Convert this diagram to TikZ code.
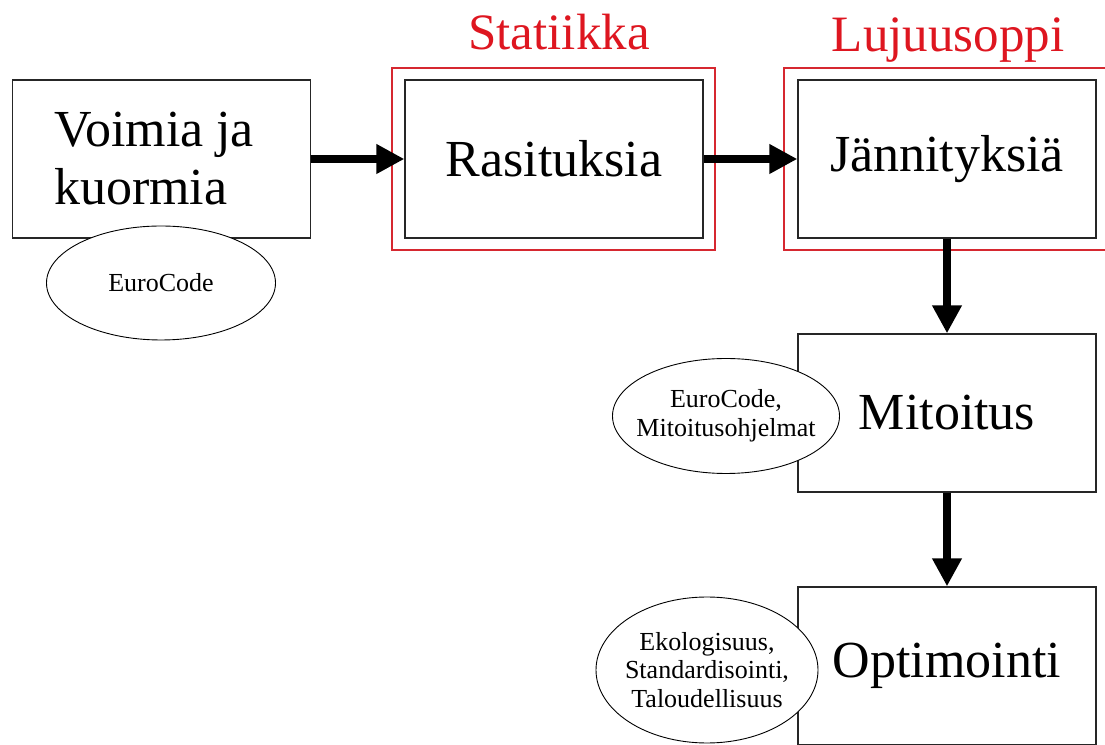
\documentclass[tikz,border=0pt]{standalone}
\usepackage{fontspec}
\setmainfont{Liberation Serif}
\usepackage{xcolor}
\usepackage{tikz}
\usetikzlibrary{arrows.meta,shapes.geometric}

\definecolor{framered}{RGB}{214,40,48}
\definecolor{titlered}{RGB}{222,22,32}

\begin{document}
\begin{tikzpicture}[x=1pt,y=1pt,
    box/.style={draw=black!85, line width=1.3pt, fill=white, minimum width=298pt,
                minimum height=158pt, inner sep=0pt, font=\fontsize{52}{58}\selectfont},
    frame/.style={draw=framered, line width=1.3pt, minimum width=323pt,
                  minimum height=182pt, inner sep=0pt},
    note/.style={ellipse, draw, line width=0.9pt, fill=white, inner sep=-15pt,
                 align=center, font=\fontsize{26}{28.5}\selectfont},
    title/.style={text=titlered, anchor=base, font=\fontsize{51}{58}\selectfont},
    flow/.style={line width=7.5pt, -{Triangle[length=28pt,width=28pt]}}]

            \useasboundingbox (0,0) rectangle (1105,744);
            \clip (0,0) rectangle (1105,744);

            % red frames
            \node[frame] (statframe) at (553.5,585) {};
            \node[frame] (lujframe) at (945.5,585) {};
            \node[title] (statlbl) at (559,694) {Statiikka};
            \node[title] (lujlbl) at (948,692) {Lujuusoppi};

            % boxes
            \node[box, align=flush left, text width=215pt] (voimia) at (161.7,585) {Voimia ja\\kuormia};
            \node[box] (rasit) at (554,585) {Rasituksia};
            \node[box] (janni) at (947,585) {Jännityksiä};
            \node[box] (mitoit) at (947,331) {Mitoitus};
            \node[box] (optim) at (947,78) {Optimointi};

            % arrows
            \draw[flow] (voimia.east) -- (rasit.west);
            \draw[flow] (rasit.east) -- (janni.west);
            \draw[flow] (janni.south) -- (mitoit.north);
            \draw[flow] (mitoit.south) -- (optim.north);

            % ellipses
            \node[note, minimum width=229pt, minimum height=114pt] (eurocode1) at (161,461) {EuroCode};
            \node[note, minimum width=227pt, minimum height=115pt] (eurocode2) at (726,328) {EuroCode,\\Mitoitusohjelmat};
            \node[note, minimum width=222pt, minimum height=146pt] (ekolog) at (707,74) {Ekologisuus,\\Standardisointi,\\Taloudellisuus};
        \end{tikzpicture}
\end{document}
